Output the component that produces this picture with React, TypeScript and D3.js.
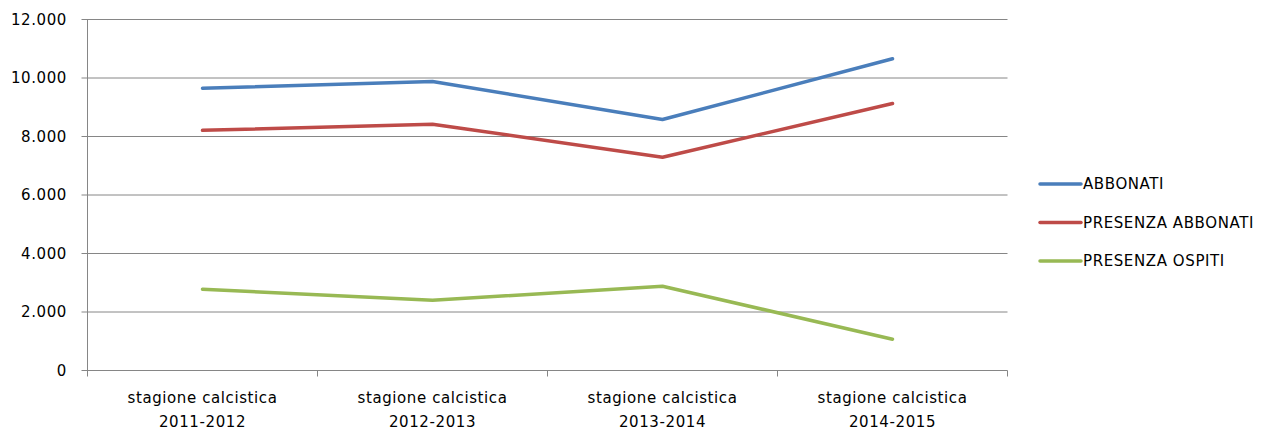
import { useRef, useEffect } from 'react'
import * as d3 from 'd3'

const categories = ['stagione calcistica|2011-2012', 'stagione calcistica|2012-2013', 'stagione calcistica|2013-2014', 'stagione calcistica|2014-2015']
const abbonati = [9650, 9880, 8580, 10660]
const presenzaAbbonati = [8210, 8420, 7290, 9130]
const presenzaOspiti = [2780, 2400, 2880, 1070]
const yTicks = [0, 2000, 4000, 6000, 8000, 10000, 12000]

const series = [
  { name: 'ABBONATI', values: abbonati, color: '#4A7EBB' },
  { name: 'PRESENZA ABBONATI', values: presenzaAbbonati, color: '#BE4B48' },
  { name: 'PRESENZA OSPITI', values: presenzaOspiti, color: '#98B954' }
]

function App() {
  const ref = useRef<SVGSVGElement>(null)

  useEffect(() => {
    if (!ref.current) return
    const svg = d3.select(ref.current)
    svg.selectAll('*').remove()

    const font = '"DejaVu Sans", sans-serif'
    const ls = 0.6
    const left = 87.5, right = 1007.5, top = 19.5, bottom = 370.5

    const x = d3.scaleBand().domain(categories).range([left, right])
    const y = d3.scaleLinear().domain([0, 12000]).range([bottom, top])
    const fmt = (v: number) => d3.format(',')(v).replace(/,/g, '.')

    // grid
    svg.append('g')
      .selectAll('line')
      .data(yTicks.filter(t => t > 0))
      .enter()
      .append('line')
      .attr('x1', left - 6)
      .attr('x2', right)
      .attr('y1', d => y(d))
      .attr('y2', d => y(d))
      .attr('stroke', '#868686')
      .attr('stroke-width', 1)

    // axes
    svg.append('line')
      .attr('x1', left).attr('x2', left)
      .attr('y1', top).attr('y2', bottom)
      .attr('stroke', '#868686')
    svg.append('line')
      .attr('x1', left - 6).attr('x2', right)
      .attr('y1', bottom).attr('y2', bottom)
      .attr('stroke', '#868686')

    svg.append('g')
      .selectAll('text')
      .data(yTicks)
      .enter()
      .append('text')
      .attr('x', 67)
      .attr('y', d => y(d))
      .attr('dy', '0.36em')
      .attr('text-anchor', 'end')
      .attr('font-family', font)
      .attr('font-size', 15)
      .attr('letter-spacing', ls)
      .attr('fill', '#000')
      .text(d => fmt(d))

    // x ticks
    const edges = categories.map(c => x(c)!).concat([right])
    svg.append('g')
      .selectAll('line')
      .data(edges)
      .enter()
      .append('line')
      .attr('x1', d => d).attr('x2', d => d)
      .attr('y1', bottom).attr('y2', bottom + 6)
      .attr('stroke', '#868686')

    const xl = svg.append('g')
      .selectAll('text')
      .data(categories)
      .enter()
      .append('text')
      .attr('x', d => x(d)! + x.bandwidth() / 2)
      .attr('y', 403)
      .attr('text-anchor', 'middle')
      .attr('font-family', font)
      .attr('font-size', 15)
      .attr('letter-spacing', ls)
      .attr('fill', '#000')
    xl.append('tspan').text(d => d.split('|')[0])
    xl.append('tspan')
      .attr('x', d => x(d)! + x.bandwidth() / 2)
      .attr('dy', 24)
      .text(d => d.split('|')[1])

    const line = d3.line<number>()
      .x((_, i) => x(categories[i])! + x.bandwidth() / 2)
      .y(d => y(d))

    series.forEach(s => {
      svg.append('path')
        .datum(s.values)
        .attr('d', line)
        .attr('fill', 'none')
        .attr('stroke', s.color)
        .attr('stroke-width', 3.5)
        .attr('stroke-linejoin', 'round')
        .attr('stroke-linecap', 'round')
    })

    // legend
    const lg = svg.append('g')
      .selectAll('g')
      .data(series)
      .enter()
      .append('g')
      .attr('transform', (_, i) => `translate(1040,${184 + i * 38.5})`)
    lg.append('line')
      .attr('x1', 0).attr('x2', 41)
      .attr('stroke', d => d.color)
      .attr('stroke-width', 3.5)
      .attr('stroke-linecap', 'round')
    lg.append('text')
      .attr('x', 43)
      .attr('dy', '0.36em')
      .attr('font-family', font)
      .attr('font-size', 15)
      .attr('letter-spacing', ls)
      .attr('fill', '#000')
      .text(d => d.name)
  }, [])

  return (
    <svg ref={ref} width={1267} height={429} style={{ position: 'absolute', left: 0, top: 0, background: '#fff' }} />
  )
}

export default App
